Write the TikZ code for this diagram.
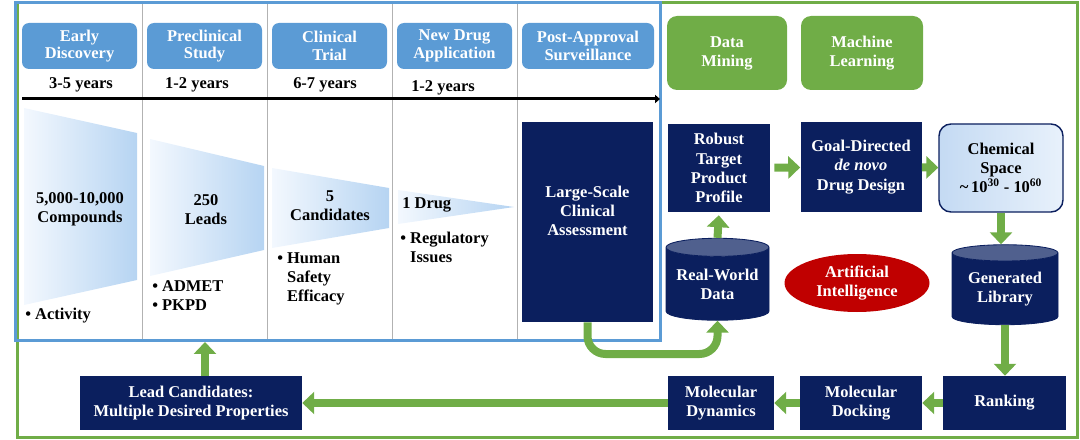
\documentclass[tikz,border=0pt]{standalone}
\usepackage{fontspec}
\setmainfont{Liberation Serif}
\usetikzlibrary{positioning, arrows.meta, shapes.geometric, calc}

\newdimen\unitpx
\unitpx=0.025cm

\definecolor{hblue}{HTML}{5B9BD5}
\definecolor{agreen}{HTML}{70AD47}
\definecolor{navy}{HTML}{0B1F5E}
\definecolor{aired}{HTML}{C00000}
\definecolor{cyltop}{HTML}{50608E}
\definecolor{fleft}{HTML}{F3F8FE}
\definecolor{fright}{HTML}{B6D4F2}
\definecolor{cleft}{HTML}{C4DAF3}
\definecolor{cright}{HTML}{E8F1FB}

\begin{document}
\begin{tikzpicture}[
    x=0.025cm, y=-0.025cm,
    every node/.style={font=\fontsize{11.7}{13.6}\selectfont\bfseries, align=center, inner sep=0pt},
    hbox/.style={fill=hblue, text=white, rounded corners=7\unitpx, minimum width=115\unitpx, minimum height=46\unitpx, font=\fontsize{11.7}{12.4}\selectfont\bfseries},
    gbox/.style={fill=agreen, text=white, rounded corners=10\unitpx, minimum height=74\unitpx},
    nbox/.style={fill=navy, text=white},
    cyl/.style={cylinder, shape border rotate=90, aspect=0.22, draw=navy, line width=0.6pt, cylinder uses custom fill, cylinder body fill=navy, cylinder end fill=cyltop, text=white},
    garrow/.style={draw=agreen, line width=8\unitpx, -{Triangle[length=8.5pt, width=15.6pt]}},
    funnel/.style={left color=fleft, right color=fright},
    bul/.style={anchor=west, align=left},
]
\useasboundingbox (0,0) rectangle (1080,440);

% frames and phase columns
\draw[agreen, line width=3\unitpx] (17,3) rectangle (1077,437);
\foreach \x in {142,267,392,517}
    \draw[gray!60, line width=0.6pt] (\x,3) -- (\x,340);
\draw[hblue, line width=3\unitpx] (15,3) rectangle (660,340);

\node[hbox] (early) at (79.5,46) {Early\\Discovery};
\node[hbox] (precl) at (204.5,46) {Preclinical\\Study};
\node[hbox] (clin) at (329.5,46) {Clinical\\Trial};
\node[hbox] (nda) at (454.5,46) {New Drug\\Application};
\node[hbox, minimum width=132\unitpx] (post) at (588,46) {Post-Approval\\Surveillance};

\node (yrs1) at (81,85) {3-5 years};
\node (yrs2) at (197,85) {1-2 years};
\node (yrs3) at (325,85) {6-7 years};
\node (yrs4) at (443,88) {1-2 years};

\coordinate (tstart) at (22,99);
\coordinate (tend) at (660,99);
\draw[line width=3\unitpx, -{Triangle[length=3.5pt, width=5.7pt]}] (tstart) -- (tend);

% funnel
\shade[funnel] (24,108) -- (137,133) -- (137,280) -- (24,305) -- cycle;
\shade[funnel] (150,139) -- (264,166) -- (264,250) -- (150,276) -- cycle;
\shade[funnel] (272,168) -- (389,188) -- (389,228) -- (272,248) -- cycle;
\shade[funnel] (398,190) -- (514,207) -- (398,224) -- cycle;

\node (comp) at (80,209) {5,000-10,000\\Compounds};
\node (leads) at (206,210) {250\\Leads};
\node (cand) at (330,206) {5\\Candidates};
\node[bul] (drug) at (402,205) {1 Drug};

\node[bul] (act) at (25,316) {\textbullet\ Activity};
\node[bul] (admet) at (152,296) {\textbullet\ ADMET\\\textbullet\ PKPD};
\node[bul] (human) at (277,279) {\textbullet\ Human\\\phantom{\textbullet\ }Safety\\\phantom{\textbullet\ }Efficacy};
\node[bul] (reg) at (400,247) {\textbullet\ Regulatory\\\phantom{\textbullet\ }Issues};

% AI-driven part
\node[gbox, minimum width=120\unitpx] (mining) at (727,53) {Data\\Mining};
\node[gbox, minimum width=122\unitpx] (ml) at (862,53) {Machine\\Learning};

\node[nbox, minimum width=131\unitpx, minimum height=200\unitpx] (lsca) at (587.5,222) {};
\node[text=white] (lscatext) at (587.5,211) {Large-Scale\\Clinical\\Assessment};
\node[nbox, minimum width=102\unitpx, minimum height=88\unitpx] (robust) at (719,168) {Robust\\Target\\Product\\Profile};
\node[nbox, minimum width=121\unitpx, minimum height=90\unitpx] (goal) at (861,167) {Goal-Directed\\\textit{de novo}\\Drug Design};
\node[draw=navy, line width=1pt, rounded corners=12\unitpx, left color=cleft, right color=cright, minimum width=124\unitpx, minimum height=88\unitpx] (chem) at (1001,168) {Chemical\\Space\\\textasciitilde\,10\textsuperscript{30} - 10\textsuperscript{60}};

\node[cyl, minimum width=103\unitpx, minimum height=82\unitpx] (rwd) at (717.5,284) {Real-World\\Data};
\node[ellipse, fill=aired, text=white, minimum width=145\unitpx, minimum height=58\unitpx] (ai) at (857,283) {Artificial\\Intelligence};
\node[cyl, minimum width=106\unitpx, minimum height=80\unitpx] (genlib) at (1005,289) {Generated\\Library};

\node[nbox, minimum width=123\unitpx, minimum height=54\unitpx] (rank) at (1004.5,403) {Ranking};
\node[nbox, minimum width=122\unitpx, minimum height=54\unitpx] (dock) at (861,403) {Molecular\\Docking};
\node[nbox, minimum width=106\unitpx, minimum height=54\unitpx] (md) at (721,403) {Molecular\\Dynamics};
\node[nbox, minimum width=222\unitpx, minimum height=54\unitpx] (lead) at (191,403) {Lead Candidates:\\Multiple Desired Properties};

% connectors
\draw[garrow, shorten <=4\unitpx] (robust) -- (goal);
\draw[garrow] (goal) -- (chem);
\draw[garrow, shorten >=3\unitpx] (rwd.north) -- (robust.south);
\draw[garrow] (chem.south) -- (chem.south |- genlib.north);
\draw[garrow] (genlib.south) -- (genlib.south |- rank.north);
\draw[garrow] (rank) -- (dock);
\draw[garrow] (dock) -- (md);
\draw[garrow] (md) -- (lead);
\coordinate (fbot) at (205,342);
\draw[garrow] (fbot |- lead.north) -- (fbot);
\coordinate (ubase) at (0,354);
\draw[garrow, rounded corners=18\unitpx] (lsca.south) -- (lsca.south |- ubase) -- (rwd.south |- ubase) -- (rwd.south);
\end{tikzpicture}
\end{document}
